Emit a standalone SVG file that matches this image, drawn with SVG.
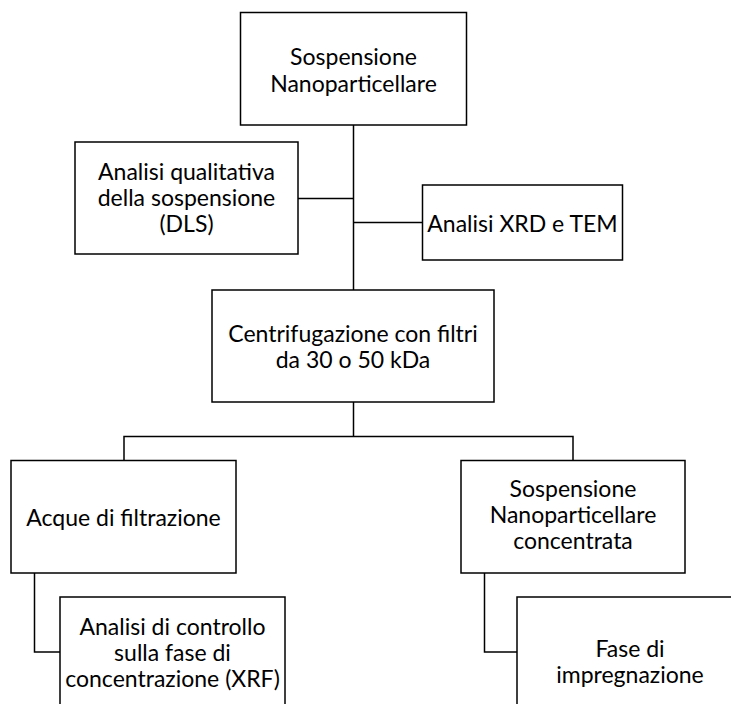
<svg xmlns="http://www.w3.org/2000/svg" width="731" height="704" viewBox="0 0 731 704">
  <style>
    .box { fill: #ffffff; stroke: #000000; stroke-width: 1.5; }
    .wire { fill: none; stroke: #000000; stroke-width: 1.5; }
    .label { font-family: Lato, "Liberation Sans", sans-serif; font-size: 23px; fill: #000000; text-anchor: middle; }
  </style>
  <rect width="731" height="704" fill="#ffffff"/>

  <!-- connectors -->
  <g id="connectors">
    <!-- trunk from the top node down to the centrifuge step -->
    <path class="wire" d="M353.5,125 V290"/>
    <path class="wire" d="M298,198.5 H353.5"/>
    <path class="wire" d="M353.5,222.5 H422"/>
    <!-- split after centrifugation -->
    <path class="wire" d="M353.5,402 V436.5"/>
    <path class="wire" d="M124,460.5 V436.5 H573 V460.5"/>
    <!-- follow-up steps -->
    <path class="wire" d="M34.5,573 V652 H60"/>
    <path class="wire" d="M484.5,573 V652 H517"/>
  </g>

  <g id="n-sospensione">
    <rect class="box" x="240.5" y="12.5" width="226" height="112.5"/>
    <text class="label" x="353.5" y="65">Sospensione</text>
    <text class="label" x="353.5" y="91.5">Nanoparticellare</text>
  </g>

  <g id="n-dls">
    <rect class="box" x="75" y="142" width="223" height="112"/>
    <text class="label" x="186.5" y="180">Analisi qualitativa</text>
    <text class="label" x="186.5" y="206">della sospensione</text>
    <text class="label" x="186.5" y="232">(DLS)</text>
  </g>

  <g id="n-xrd-tem">
    <rect class="box" x="422.5" y="185" width="200" height="75"/>
    <text class="label" x="522.5" y="232">Analisi XRD e TEM</text>
  </g>

  <g id="n-centrifugazione">
    <rect class="box" x="212" y="290" width="282" height="112"/>
    <text class="label" x="353" y="342">Centrifugazione con filtri</text>
    <text class="label" x="353" y="368">da 30 o 50 kDa</text>
  </g>

  <g id="n-acque">
    <rect class="box" x="11" y="460.5" width="225" height="112.5"/>
    <text class="label" x="123.5" y="526">Acque di filtrazione</text>
  </g>

  <g id="n-concentrata">
    <rect class="box" x="461" y="460.5" width="224" height="112.5"/>
    <text class="label" x="573" y="497">Sospensione</text>
    <text class="label" x="573" y="523">Nanoparticellare</text>
    <text class="label" x="573" y="548.5">concentrata</text>
  </g>

  <g id="n-xrf">
    <rect class="box" x="60" y="597" width="225" height="112"/>
    <text class="label" x="172.5" y="635">Analisi di controllo</text>
    <text class="label" x="172.5" y="661">sulla fase di</text>
    <text class="label" x="172.5" y="687">concentrazione (XRF)</text>
  </g>

  <g id="n-impregnazione">
    <rect class="box" x="517" y="597" width="225" height="112"/>
    <text class="label" x="630" y="657">Fase di</text>
    <text class="label" x="630" y="683">impregnazione</text>
  </g>
</svg>
